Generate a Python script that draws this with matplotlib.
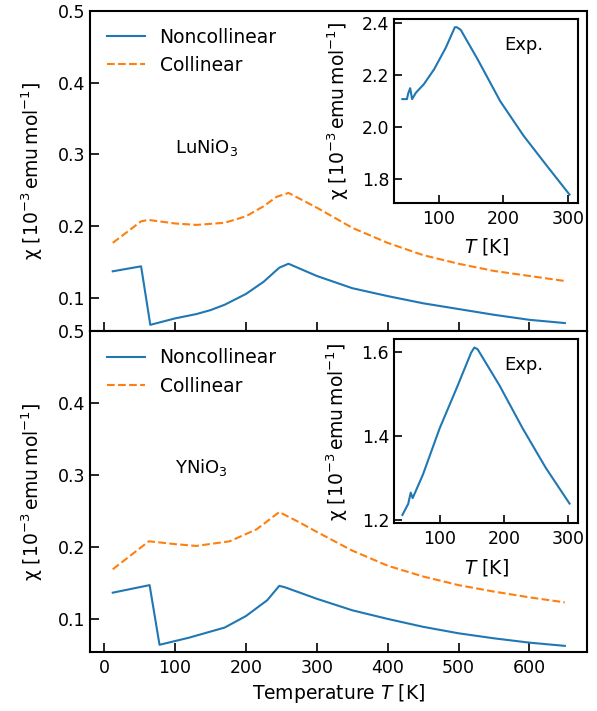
"""
Magnetic susceptibility of LuNiO3 and YNiO3: calculation vs experiment
"""

import numpy as np
from matplotlib import pyplot as plt

plt.rcParams['font.family'] = ['DejaVu Sans']
plt.rcParams['font.size'] = 13.5
plt.rcParams['xtick.labelsize'] = 12.5
plt.rcParams['ytick.labelsize'] = 12.5
plt.rcParams['axes.linewidth'] = 1.5
plt.rcParams['xtick.direction'] = 'in'
plt.rcParams['ytick.direction'] = 'in'
plt.rcParams['xtick.major.size'] = 6.5
plt.rcParams['ytick.major.size'] = 6.5
plt.rcParams['xtick.major.width'] = 1.2
plt.rcParams['ytick.major.width'] = 1.2
plt.rcParams['xtick.major.pad'] = 5

# LuNiO3, calculated
T_lu_nc = [12, 52, 65, 100, 130, 150, 170, 200, 225, 247, 260, 300, 350, 400, 450, 500, 550, 600, 650]
chi_lu_nc = [0.1375, 0.1444, 0.063, 0.072, 0.078, 0.0835, 0.091, 0.106, 0.123, 0.1425, 0.148,
             0.131, 0.114, 0.103, 0.093, 0.085, 0.077, 0.070, 0.0655]
T_lu_c = [12, 52, 62, 100, 130, 170, 200, 225, 243, 260, 300, 350, 400, 450, 500, 550, 600, 650]
chi_lu_c = [0.177, 0.207, 0.209, 0.204, 0.202, 0.205, 0.214, 0.228, 0.241, 0.2465,
            0.226, 0.198, 0.177, 0.160, 0.148, 0.138, 0.131, 0.124]

# YNiO3, calculated
T_y_nc = [12, 64, 78, 120, 170, 200, 230, 247, 255, 300, 350, 400, 450, 500, 550, 600, 650]
chi_y_nc = [0.1365, 0.147, 0.064, 0.074, 0.088, 0.104, 0.126, 0.146, 0.144,
            0.128, 0.112, 0.100, 0.089, 0.080, 0.073, 0.067, 0.0625]
T_y_c = [12, 63, 100, 130, 177, 215, 247, 276, 300, 350, 400, 450, 500, 550, 600, 650]
chi_y_c = [0.169, 0.208, 0.204, 0.2015, 0.208, 0.2246, 0.2486, 0.234,
           0.221, 0.195, 0.174, 0.159, 0.147, 0.138, 0.130, 0.123]

# experiments (insets)
T_lu_exp = [44, 51, 53, 56, 59, 65, 77, 93, 111, 125, 128, 134, 160, 195, 231, 267, 302]
chi_lu_exp = [2.108, 2.108, 2.13, 2.15, 2.108, 2.133, 2.165, 2.223, 2.306, 2.385, 2.385,
              2.375, 2.262, 2.10, 1.967, 1.851, 1.74]
T_y_exp = [42, 51, 55, 58, 74, 100, 126, 149, 154, 159, 193, 229, 265, 302]
chi_y_exp = [1.213, 1.239, 1.266, 1.253, 1.309, 1.419, 1.513, 1.599, 1.611, 1.607,
             1.521, 1.419, 1.325, 1.24]

chi_label = r'χ [$10^{-3}\,\mathrm{emu}\,\mathrm{mol}^{-1}$]'


def draw_panel(ax, T_nc, chi_nc, T_c, chi_c, name):
    ax.plot(T_nc, chi_nc, color='C0', lw=1.5, label='Noncollinear')
    ax.plot(T_c, chi_c, color='C1', lw=1.5, ls='--', label='Collinear')
    ax.set_ylim(0.054, 0.5)
    ax.set_yticks([0.1, 0.2, 0.3, 0.4, 0.5])
    ax.set_ylabel(chi_label, labelpad=9)
    ax.legend(loc='upper left', frameon=False, fontsize=13.5)
    ax.text(100, 0.31, name, va='center', ha='left', fontsize=13)


def draw_inset(fig, rect, T, chi, yticks):
    ins = fig.add_axes(rect)
    ins.plot(T, chi, color='C0', lw=1.5)
    ins.set_xticks([100, 200, 300])
    ins.set_yticks(yticks)
    ins.tick_params(length=6)
    ins.set_xlabel(r'$T$ [K]', labelpad=6)
    ins.set_ylabel(chi_label, labelpad=8)
    ins.text(0.6, 0.86, 'Exp.', transform=ins.transAxes, va='center', fontsize=13)
    return ins


def main():
    fig, (ax1, ax2) = plt.subplots(2, 1, figsize=(5.97, 7.11), dpi=100, sharex=True)
    fig.subplots_adjust(left=0.151, right=0.984, top=0.985, bottom=0.083, hspace=0)

    draw_panel(ax1, T_lu_nc, chi_lu_nc, T_lu_c, chi_lu_c, r'LuNiO$_3$')
    draw_panel(ax2, T_y_nc, chi_y_nc, T_y_c, chi_y_c, r'YNiO$_3$')
    ax2.set_xticks([0, 100, 200, 300, 400, 500, 600])
    ax2.set_xlabel(r'Temperature $T$ [K]', labelpad=4)

    draw_inset(fig, [0.660, 0.7145, 0.308, 0.259], T_lu_exp, chi_lu_exp, [1.8, 2.0, 2.2, 2.4])
    draw_inset(fig, [0.660, 0.264, 0.308, 0.259], T_y_exp, chi_y_exp, [1.2, 1.4, 1.6])

    plt.savefig('out.png', dpi=100)
    plt.close()


if __name__ == '__main__':
    main()
